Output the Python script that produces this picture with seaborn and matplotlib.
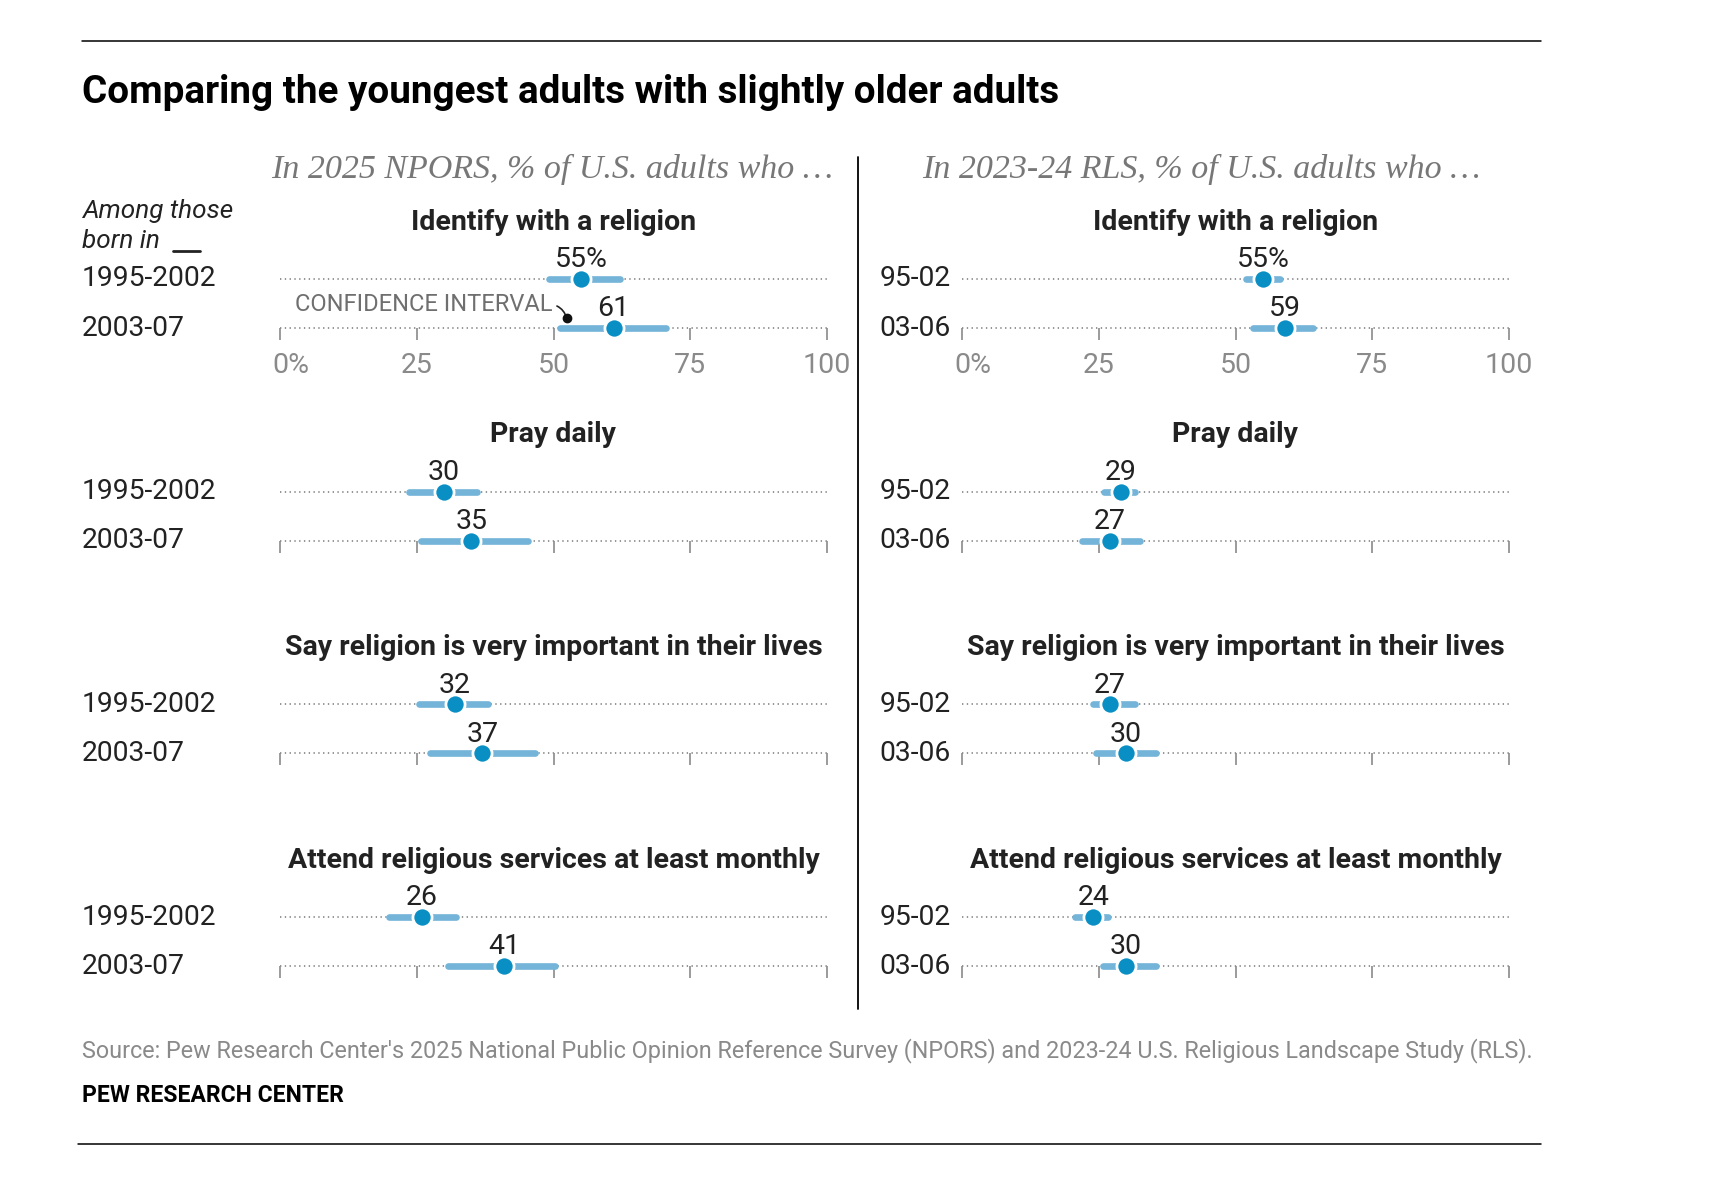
import matplotlib
matplotlib.use("Agg")
import matplotlib.pyplot as plt
import matplotlib.transforms as mtransforms
from matplotlib.lines import Line2D
import seaborn as sns
import pandas as pd

# ---- data ----
questions = [
    "Identify with a religion",
    "Pray daily",
    "Say religion is very important in their lives",
    "Attend religious services at least monthly",
]
npors_cohorts = ["1995-2002", "2003-07"]
rls_cohorts = ["95-02", "03-06"]

npors_older = [55, 30, 32, 26]
npors_older_lo = [49.1, 23.6, 25.4, 19.9]
npors_older_hi = [62.2, 36.1, 38.0, 32.2]
npors_younger = [61, 35, 37, 41]
npors_younger_lo = [51.1, 25.8, 27.5, 30.8]
npors_younger_hi = [70.6, 45.4, 46.6, 50.3]

rls_older = [55, 29, 27, 24]
rls_older_lo = [52.0, 26.0, 24.0, 20.6]
rls_older_hi = [58.2, 31.7, 31.6, 26.7]
rls_younger = [59, 27, 30, 30]
rls_younger_lo = [53.2, 21.9, 24.5, 25.7]
rls_younger_hi = [64.2, 32.5, 35.5, 35.4]

ticks = [0, 25, 50, 75, 100]
tick_labels = ["0%", "25", "50", "75", "100"]

subheads = ["In 2025 NPORS, % of U.S. adults who \u2026", "In 2023-24 RLS, % of U.S. adults who \u2026"]

DOT = "#0a8fc4"
CI = "#74b4d9"
GREY = "#8a8a8a"


def build_frame():
    rows = []
    sets = [
        ("NPORS", npors_cohorts, [npors_older, npors_younger],
         [npors_older_lo, npors_younger_lo], [npors_older_hi, npors_younger_hi]),
        ("RLS", rls_cohorts, [rls_older, rls_younger],
         [rls_older_lo, rls_younger_lo], [rls_older_hi, rls_younger_hi]),
    ]
    for panel, cohorts, vals, los, his in sets:
        for qi, q in enumerate(questions):
            for ci, cohort in enumerate(cohorts):
                v = vals[ci][qi]
                label = f"{v}%" if (qi == 0 and ci == 0) else str(v)
                rows.append({"panel": panel, "q": qi, "question": q, "cohort": cohort,
                             "row": ci, "value": v, "lo": los[ci][qi], "hi": his[ci][qi],
                             "label": label})
    return pd.DataFrame(rows)


df = build_frame()

sns.set_theme(style="white")
plt.rcParams["font.family"] = ["Roboto", "DejaVu Sans"]

W, H = 1711, 1177
fig = plt.figure(figsize=(W / 100, H / 100), dpi=100)
fig.patch.set_facecolor("white")

panel_x0 = {"NPORS": 280, "RLS": 962}
ax_w = 547
row1_0 = 279
group_gap = 212.7
row_gap = 49

for p_i, panel in enumerate(["NPORS", "RLS"]):
    for g in range(4):
        sub = df[(df.panel == panel) & (df.q == g)]
        r1 = row1_0 + g * group_gap
        top = r1 - 0.5 * row_gap
        bottom = r1 + row_gap
        ax = fig.add_axes([panel_x0[panel] / W, 1 - bottom / H, ax_w / W, (bottom - top) / H])

        # dotted guide lines
        for r in [0, 1]:
            ax.plot([0, 100], [r, r], color="#8c8c8c", lw=1.3, ls=(0, (0.75, 1.9)),
                    zorder=1, solid_capstyle="butt", clip_on=False)

        ci = ax.hlines(sub["row"], sub["lo"], sub["hi"], color=CI, lw=4.8, zorder=2)
        ci.set_capstyle("round")
        ci.set_clip_on(False)

        sns.scatterplot(data=sub, x="value", y="row", ax=ax, s=190, color=DOT,
                        edgecolor="white", linewidth=2, zorder=4, legend=False, clip_on=False)

        for _, rw in sub.iterrows():
            ax.annotate(rw["label"], (rw["value"], rw["row"]), xytext=(0, 8.5),
                        textcoords="offset points", ha="center", va="baseline",
                        fontsize=20.5, color="#222222")

        ax.text(50, -1.16, questions[g], ha="center", va="center", fontsize=20.5,
                fontweight="bold", color="#222222")

        # cohort labels
        trans = mtransforms.blended_transform_factory(fig.transFigure, ax.transData)
        cohorts = npors_cohorts if panel == "NPORS" else rls_cohorts
        for r, lab in enumerate(cohorts):
            if panel == "NPORS":
                ax.text(82 / W, r, lab, transform=trans, ha="left", va="center",
                        fontsize=20.3, color="#222222")
            else:
                ax.text(951 / W, r, lab, transform=trans, ha="right", va="center",
                        fontsize=20.3, color="#222222")

        ax.set_xlim(0, 100)
        ax.set_ylim(1, -0.5)
        ax.set_xlabel("")
        ax.set_ylabel("")
        ax.set_yticks([])
        ax.set_xticks(ticks)
        ax.set_xticklabels([])
        ax.tick_params(axis="x", length=8.5, width=1.2, color=GREY, bottom=True, direction="out")
        if g == 0:
            for t, lab in zip(ticks, tick_labels):
                dx = 7.5 if lab.endswith("%") else 0
                ax.annotate(lab, (t, 1), xytext=(dx, -17), textcoords="offset points",
                            ha="center", va="top", fontsize=20.5, color=GREY)
        for s in ax.spines.values():
            s.set_visible(False)
        ax.patch.set_alpha(0)

        if panel == "NPORS" and g == 0:
            ax.annotate("CONFIDENCE INTERVAL", xy=(52.4, 0.8), xytext=(49.8, 0.52),
                        ha="right", va="center", fontsize=17, color="#6f6f6f",
                        arrowprops=dict(arrowstyle="-", color="#222222", lw=1.2,
                                        connectionstyle="arc3,rad=-0.3",
                                        shrinkA=1, shrinkB=0, relpos=(1, 0.5)))
            ax.plot([52.4], [0.8], "o", color="#111111", ms=6, zorder=5, clip_on=False)

# headers and layout text
fig.text(82 / W, 1 - 92.5 / H, "Comparing the youngest adults with slightly older adults",
         ha="left", va="center", fontsize=27.8, fontweight="bold", color="black")
fig.text(552 / W, 1 - 169.5 / H, subheads[0], ha="center", va="center", fontsize=24.5,
         style="italic", color="#777777", family=["Liberation Serif", "DejaVu Serif"])
fig.text(1201 / W, 1 - 169.5 / H, subheads[1], ha="center", va="center", fontsize=24.5,
         style="italic", color="#777777", family=["Liberation Serif", "DejaVu Serif"])
fig.text(82 / W, 1 - 210.5 / H, "Among those", ha="left", va="center", fontsize=18.8,
         style="italic", color="#222222")
fig.text(82 / W, 1 - 240.5 / H, "born in", ha="left", va="center", fontsize=18.8,
         style="italic", color="#222222")
fig.add_artist(Line2D([173 / W, 200 / W], [1 - 251 / H, 1 - 251 / H], color="#222222", lw=2))

fig.text(82 / W, 1 - 1051 / H,
         "Source: Pew Research Center's 2025 National Public Opinion Reference Survey (NPORS) "
         "and 2023-24 U.S. Religious Landscape Study (RLS).",
         ha="left", va="center", fontsize=16.8, color=GREY)
fig.text(82 / W, 1 - 1095.5 / H, "PEW RESEARCH CENTER", ha="left", va="center",
         fontsize=16.5, fontweight="bold", color="black")

fig.add_artist(Line2D([82 / W, 1541 / W], [1 - 41 / H, 1 - 41 / H], color="black", lw=1.1))
fig.add_artist(Line2D([78 / W, 1541 / W], [1 - 1144 / H, 1 - 1144 / H], color="black", lw=1.1))
fig.add_artist(Line2D([858 / W, 858 / W], [1 - 157 / H, 1 - 1009 / H], color="black", lw=1.3))

fig.savefig("out.png", dpi=100, facecolor="white")
